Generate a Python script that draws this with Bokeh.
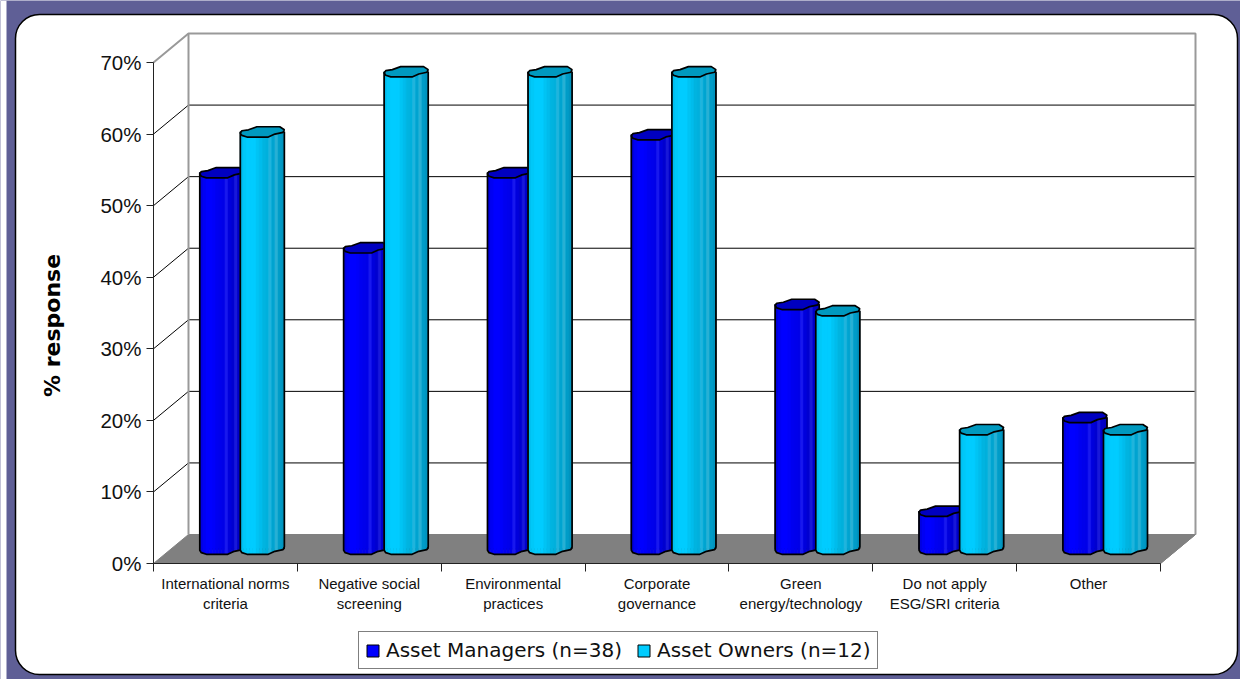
from bokeh.plotting import figure
from bokeh.models import (Range1d, LinearAxis, FixedTicker, PrintfTickFormatter, BoxAnnotation,
                          Legend, LegendItem, Label)
from bokeh.embed import file_html
from bokeh.resources import INLINE

categories = ["International norms\ncriteria", "Negative social\nscreening", "Environmental\npractices",
              "Corporate\ngovernance", "Green\nenergy/technology", "Do not apply\nESG/SRI criteria", "Other"]
asset_managers = [52.6, 42.1, 52.6, 57.9, 34.2, 5.3, 18.4]
asset_owners = [58.3, 66.7, 66.7, 66.7, 33.3, 16.7, 16.7]
y_ticks = [0, 10, 20, 30, 40, 50, 60, 70]
series_names = ["Asset Managers (n=38)", "Asset Owners (n=12)"]

W, H = 1240, 679
PX_X = 143.857      # px per category
PX_Y = 7.157        # px per percent
X0, Y0 = 153, 563   # pixel of the origin
DX = 35 / PX_X      # depth of the floor
DY = 29 / PX_Y
N = len(categories)
TOP = y_ticks[-1]

p = figure(width=W, height=H, output_backend="svg", toolbar_location=None,
           x_range=Range1d(-X0 / PX_X, (W - X0) / PX_X),
           y_range=Range1d(-(H - Y0) / PX_Y, Y0 / PX_Y),
           x_axis_type=None, y_axis_type=None, min_border=0, outline_line_color=None,
           background_fill_color="#5f5f96", border_fill_color="#5f5f96")
p.grid.visible = False

# page frame (screen y counts from the bottom here)
p.add_layout(BoxAnnotation(left=15, right=1237, top=H - 14, bottom=H - 674, left_units="screen", right_units="screen",
                           top_units="screen", bottom_units="screen", fill_color="white", fill_alpha=1,
                           line_color="black", line_width=1.5, line_alpha=1, border_radius=24, level="underlay"))
p.add_layout(BoxAnnotation(left=0, right=6, top=H, bottom=0, left_units="screen", right_units="screen",
                           top_units="screen", bottom_units="screen", fill_color="white", fill_alpha=1,
                           line_alpha=0, level="underlay"))

# floor
p.patch([0, DX, N + DX, N], [0, DY, DY, 0], fill_color="#808080", line_color="#808080", line_width=1)
# back-wall gridlines and the slanted lines on the side wall
p.multi_line([[DX, N + DX] for t in y_ticks[1:-1]], [[t + DY, t + DY] for t in y_ticks[1:-1]],
             line_color="#000000", line_width=1)
p.multi_line([[0, DX] for t in y_ticks[1:-1]], [[t, t + DY] for t in y_ticks[1:-1]],
             line_color="#000000", line_width=1)
# wall edges
p.multi_line([[0, DX, N + DX, N + DX], [DX, DX]],
             [[TOP, TOP + DY, TOP + DY, DY], [DY, TOP + DY]], line_color="#999999", line_width=2)
p.line([N, N + DX], [0, DY], line_color="#808080", line_width=1)

# cylinders
CAP = [(-1, .25), (-.93, -.19), (-.63, -.37), (-.25, -.94), (.79, -.94), (1, -.38), (.94, .12),
       (.57, .44), (.27, 1), (-.7, 1), (-.93, .69)]
FRONT = [(-1, .25), (-.93, .69), (-.7, 1), (.27, 1), (.57, .44), (.94, .12), (1, -.38)]
HW = 0.153
HH = 5.3 / PX_Y
SHIFT = [-0.147, 0.135]
STRIPS = [
    ["#0000e0", "#0000f4", "#0000ff", "#0000ff", "#0000fa", "#0000f0", "#0000ec", "#0000e8",
     "#1818ee", "#0000dc", "#0000d0", "#1818d8", "#0000c8", "#0000c0"],
    ["#00bfef", "#00c8f8", "#00ccff", "#00ccff", "#00ccff", "#00c4f4", "#00bcec", "#00b4e0",
     "#00b0dc", "#20b4dc", "#00a4d0", "#28b0d4", "#009cc8", "#0094bf"],
]
CAPS = ["#0000c0", "#0099bf"]
BASE = ["#0000ff", "#00ccff"]


def front_v(u):
    for (u0, v0), (u1, v1) in zip(FRONT[:-1], FRONT[1:]):
        if u0 <= u <= u1:
            return v0 + (v1 - v0) * (u - u0) / (u1 - u0)
    return 0


legend_items = []
for s, values in enumerate([asset_managers, asset_owners]):
    centers = [i + .5 + SHIFT[s] + DX / 2 for i in range(N)]
    bar = p.vbar(x=centers, top=[v + DY / 2 for v in values], bottom=[DY / 2] * N, width=2 * HW,
                 fill_color=BASE[s], line_color="black", line_width=1)
    legend_items.append(LegendItem(label=series_names[s], renderers=[bar]))
    xs, ys, cols = [], [], []
    k = len(STRIPS[s])
    for c, v in zip(centers, values):
        yt = v + DY / 2
        yb = DY / 2
        for j in range(k):
            u0, u1 = -1 + 2 * j / k, -1 + 2 * (j + 1) / k
            xs.append([c + u0 * HW, c + u1 * HW, c + u1 * HW, c + u0 * HW])
            ys.append([yt, yt, yb - front_v(u1) * HH, yb - front_v(u0) * HH])
            cols.append(STRIPS[s][j])
    p.patches(xs, ys, fill_color=cols, line_color=cols, line_width=0.5)
    # outline
    ox, oy, cx, cy = [], [], [], []
    for c, v in zip(centers, values):
        yt = v + DY / 2
        yb = DY / 2
        ox.append([c - HW] + [c + u * HW for u, _ in FRONT] + [c + HW])
        oy.append([yt] + [yb - w * HH for _, w in FRONT] + [yt])
        cx.append([c + u * HW for u, _ in CAP])
        cy.append([yt - w * HH for _, w in CAP])
    p.multi_line(ox, oy, line_color="black", line_width=1.7)
    p.patches(cx, cy, fill_color=CAPS[s], line_color="black", line_width=1.7)

# axes
y_axis = LinearAxis(fixed_location=0, bounds=(0, TOP), ticker=FixedTicker(ticks=y_ticks),
                    formatter=PrintfTickFormatter(format="%d%%"), major_tick_in=0, major_tick_out=7,
                    minor_tick_line_color=None, axis_line_color="#222222", major_tick_line_color="#222222",
                    major_label_text_font="Liberation Sans", major_label_text_font_size="20.5px",
                    major_label_text_color="#111111", major_label_standoff=5)
p.add_layout(y_axis, "left")
x_axis = LinearAxis(fixed_location=0, bounds=(0, N), ticker=FixedTicker(ticks=list(range(N + 1))),
                    major_tick_in=0, major_tick_out=8, minor_tick_line_color=None, axis_line_color="#222222",
                    major_tick_line_color="#222222", major_label_text_color=None)
p.add_layout(x_axis, "below")
x_labels = LinearAxis(fixed_location=0, bounds=(0, N), ticker=FixedTicker(ticks=[i + .5 for i in range(N)]),
                      major_label_overrides={i + .5: c for i, c in enumerate(categories)},
                      major_tick_line_color=None, minor_tick_line_color=None, axis_line_color=None,
                      major_tick_in=0, major_tick_out=0, major_label_standoff=11,
                      major_label_text_font="Liberation Sans", major_label_text_font_size="15px",
                      major_label_text_color="#111111")
p.add_layout(x_labels, "below")

p.add_layout(Label(x=52, y=H - 325, x_units="screen", y_units="screen", text="% response", angle=1.5708,
                   text_font="DejaVu Sans", text_font_style="bold", text_font_size="22px",
                   text_align="center", text_baseline="middle", text_color="black"))

legend = Legend(items=legend_items, orientation="horizontal", location=(358, 10), margin=0, padding=6,
                spacing=14, glyph_width=15, glyph_height=15, label_standoff=6, label_height=20,
                label_text_font="DejaVu Sans", label_text_font_size="20px", label_text_color="#111111",
                background_fill_color="white", background_fill_alpha=1, border_line_color="black",
                border_line_width=1)
p.add_layout(legend, "center")

open("out.html", "w").write(file_html(p, INLINE))
